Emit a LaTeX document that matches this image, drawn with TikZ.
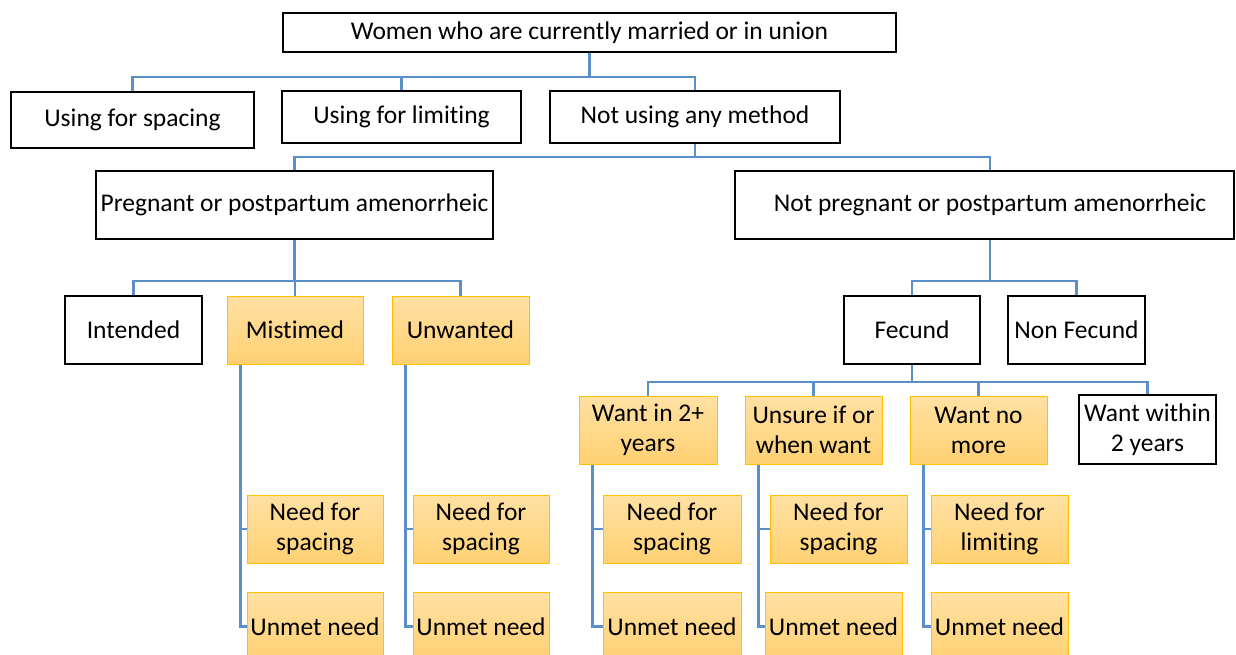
\documentclass[tikz,border=0pt]{standalone}
\usepackage{fontspec}
\setmainfont{Carlito}[Ligatures={NoCommon}]
\usetikzlibrary{calc}
\definecolor{conn}{HTML}{5B8FC8}
\definecolor{obord}{HTML}{FFC000}
\definecolor{otop}{HTML}{FFE1A3}
\definecolor{obot}{HTML}{FFD072}
\tikzset{
  bx/.style={draw=black, line width=2pt, fill=white, inner sep=0pt, align=center, font=\fontsize{25.5}{30}\selectfont},
  ob/.style={draw=obord, line width=1pt, top color=otop, bottom color=obot, inner sep=0pt, align=center, font=\fontsize{25.5}{30}\selectfont},
  cn/.style={draw=conn, line width=2.6pt},
}
\begin{document}
\begin{tikzpicture}[x=1pt,y=-1pt]
\clip (0,0) rectangle (1236,655);
\fill[white] (0,0) rectangle (1236,655);
% level 0
\node[bx, minimum width=613, minimum height=39] (top) at (589.5,32.5) {Women who are currently married or in union};
% level 1
\node[bx, minimum width=243, minimum height=56] (usp) at (132.5,120) {Using for spacing};
\node[bx, minimum width=239, minimum height=52] (uli) at (401.5,117) {Using for limiting};
\node[bx, minimum width=290, minimum height=52] (nou) at (695,117) {Not using any method};
% level 2
\node[bx, minimum width=397, minimum height=68] (prg) at (294.5,205) {Pregnant or postpartum amenorrheic};
\node[bx, minimum width=499, minimum height=68] (npg) at (984.5,205) {};
\node[font=\fontsize{25.5}{30}\selectfont, inner sep=0pt] (npgt) at (990,205) {Not pregnant or postpartum amenorrheic};
\coordinate (npgc) at ($(npg.center)+(5.5,0)$);
% level 3
\node[bx, minimum width=137, minimum height=68] (int) at (133.5,330) {Intended};
\node[ob, minimum width=136, minimum height=68] (mis) at (295,330) {Mistimed};
\node[ob, minimum width=137, minimum height=68] (unw) at (460.5,330) {Unwanted};
\node[bx, minimum width=136, minimum height=68] (fec) at (912,330) {Fecund};
\node[bx, minimum width=137, minimum height=68] (nfe) at (1076.5,330) {Non Fecund};
% level 4
\node[ob, minimum width=138, minimum height=68] (w2p) at (648,430) {Want in 2+\\years};
\node[ob, minimum width=137, minimum height=68] (uns) at (813.5,430) {Unsure if or\\when want};
\node[ob, minimum width=137, minimum height=68] (wnm) at (978.5,430) {Want no\\more};
\node[bx, minimum width=137, minimum height=69] (wwi) at (1147.5,429.5) {Want within\\2 years};
% need boxes
\node[ob, minimum width=136, minimum height=68] (ns1) at (315,529) {Need for\\spacing};
\node[ob, minimum width=136, minimum height=68] (ns2) at (481,529) {Need for\\spacing};
\node[ob, minimum width=138, minimum height=68] (ns3) at (672,529) {Need for\\spacing};
\node[ob, minimum width=137, minimum height=68] (ns4) at (838.5,529) {Need for\\spacing};
\node[ob, minimum width=137, minimum height=68] (nl5) at (999.5,529) {Need for\\limiting};
% unmet boxes
\node[ob, minimum width=136, minimum height=68, anchor=north] (um1) at (315,592) {Unmet need};
\node[ob, minimum width=136, minimum height=68, anchor=north] (um2) at (481,592) {Unmet need};
\node[ob, minimum width=138, minimum height=68, anchor=north] (um3) at (672,592) {Unmet need};
\node[ob, minimum width=137, minimum height=68, anchor=north] (um4) at (833.5,592) {Unmet need};
\node[ob, minimum width=137, minimum height=68, anchor=north] (um5) at (999.5,592) {Unmet need};
% level lines
\coordinate (l1) at (0,77);
\coordinate (l2) at (0,157);
\coordinate (l3) at (0,281);
\coordinate (l4) at (0,382);
\draw[cn] (top.south) -- (top.south |- l1);
\draw[cn] (usp.north) -- (usp.north |- l1) -- (nou.north |- l1) -- (nou.north);
\draw[cn] (uli.north) -- (uli.north |- l1);
\draw[cn] (nou.south) -- (nou.south |- l2);
\draw[cn] (prg.north) -- (prg.north |- l2) -- (npgc |- l2) -- (npgc |- npg.north);
\draw[cn] (prg.south) -- (prg.south |- l3);
\draw[cn] (int.north) -- (int.north |- l3) -- (unw.north |- l3) -- (unw.north);
\draw[cn] (mis.north) -- (mis.north |- l3);
\draw[cn] (npgc |- npg.south) -- (npgc |- l3);
\draw[cn] (fec.north) -- (fec.north |- l3) -- (nfe.north |- l3) -- (nfe.north);
\draw[cn] (fec.south) -- (fec.south |- l4);
\draw[cn] (w2p.north) -- (w2p.north |- l4) -- (wwi.north |- l4) -- (wwi.north);
\draw[cn] (uns.north) -- (uns.north |- l4);
\draw[cn] (wnm.north) -- (wnm.north |- l4);
% side branches
\foreach \p/\a/\b in {mis/ns1/um1, unw/ns2/um2, w2p/ns3/um3, uns/ns4/um4, wnm/nl5/um5}{
  \coordinate (v\p) at ($(\p.south west)+(14,0)$);
  \draw[cn] (v\p) |- (\a.west);
  \draw[cn] (v\p) |- (\b.west);
}
\end{tikzpicture}
\end{document}
